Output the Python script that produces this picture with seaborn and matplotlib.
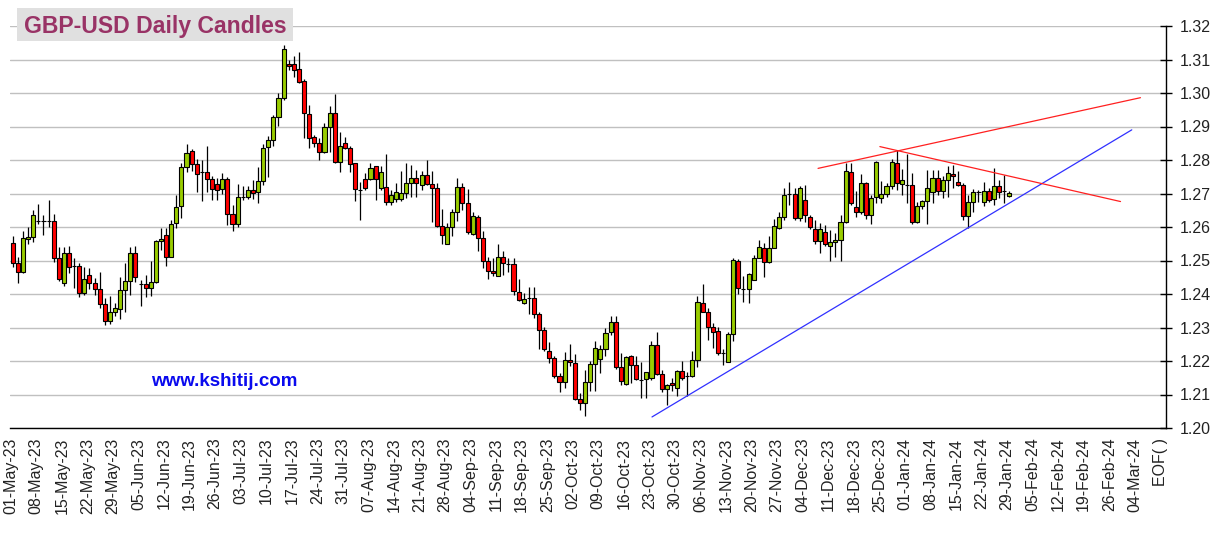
import numpy as np
import pandas as pd
import matplotlib
matplotlib.use("Agg")
import matplotlib.pyplot as plt
from matplotlib.patches import Rectangle
import seaborn as sns

# ---------------------
# Data
# ---------------------
opens = [
    1.2552, 1.2492, 1.2467, 1.2563, 1.2569, 1.2618, 1.2618, 1.2618, 1.2618, 1.2508,
    1.2433, 1.2523, 1.2485, 1.2485, 1.2403, 1.2458, 1.2432, 1.2415, 1.2369, 1.2318,
    1.2346, 1.2355, 1.2412, 1.2439, 1.2523, 1.2429, 1.2430, 1.2417, 1.2437, 1.2557,
    1.2577, 1.2511, 1.2611, 1.2663, 1.2778, 1.2826, 1.2789, 1.2765, 1.2765, 1.2743,
    1.2728, 1.2712, 1.2744, 1.2638, 1.2608, 1.2691, 1.2691, 1.2709, 1.2704, 1.2736,
    1.2838, 1.2859, 1.2928, 1.2986, 1.3088, 1.3088, 1.3071, 1.3037, 1.2936, 1.2868,
    1.2850, 1.2823, 1.2899, 1.2939, 1.2794, 1.2852, 1.2835, 1.2790, 1.2709, 1.2743,
    1.2743, 1.2781, 1.2716, 1.2719, 1.2675, 1.2684, 1.2684, 1.2701, 1.2731, 1.2746,
    1.2725, 1.2755, 1.2728, 1.2716, 1.2602, 1.2549, 1.2600, 1.2645, 1.2719, 1.2672,
    1.2579, 1.2629, 1.2566, 1.2500, 1.2470, 1.2455, 1.2510, 1.2489, 1.2489, 1.2406,
    1.2372, 1.2389, 1.2389, 1.2341, 1.2292, 1.2230, 1.2209, 1.2154, 1.2137, 1.2204,
    1.2194, 1.2087, 1.2074, 1.2137, 1.2191, 1.2205, 1.2236, 1.2287, 1.2315, 1.2183,
    1.2130, 1.2215, 1.2188, 1.2143, 1.2145, 1.2148, 1.2249, 1.2162, 1.2115, 1.2134,
    1.2118, 1.2170, 1.2155, 1.2156, 1.2203, 1.2372, 1.2347, 1.2302, 1.2290, 1.2224,
    1.2197, 1.2281, 1.2498, 1.2416, 1.2416, 1.2443, 1.2508, 1.2538, 1.2496, 1.2536,
    1.2598, 1.2631, 1.2698, 1.2698, 1.2627, 1.2680, 1.2630, 1.2594, 1.2557, 1.2585,
    1.2544, 1.2555, 1.2562, 1.2614, 1.2764, 1.2659, 1.2644, 1.2731, 1.2636, 1.2689,
    1.2686, 1.2698, 1.2723, 1.2792, 1.2729, 1.2726, 1.2726, 1.2614, 1.2663, 1.2679,
    1.2704, 1.2746, 1.2706, 1.2739, 1.2758, 1.2734, 1.2724, 1.2634, 1.2674, 1.2704,
    1.2676, 1.2706, 1.2683, 1.2723, 1.2708, 1.2693,
]
highs = [
    1.2572, 1.2510, 1.2587, 1.2600, 1.2650, 1.2668, 1.2637, 1.2681, 1.2639, 1.2539,
    1.2539, 1.2543, 1.2507, 1.2492, 1.2482, 1.2477, 1.2448, 1.2467, 1.2388, 1.2395,
    1.2373, 1.2452, 1.2492, 1.2539, 1.2543, 1.2443, 1.2457, 1.2499, 1.2560, 1.2598,
    1.2598, 1.2621, 1.2695, 1.2790, 1.2848, 1.2833, 1.2802, 1.2800, 1.2842, 1.2751,
    1.2745, 1.2760, 1.2748, 1.2665, 1.2728, 1.2721, 1.2721, 1.2740, 1.2780, 1.2849,
    1.2871, 1.2935, 1.3000, 1.3143, 1.3100, 1.3110, 1.3123, 1.3041, 1.2964, 1.2875,
    1.2865, 1.2909, 1.2962, 1.2997, 1.2884, 1.2870, 1.2842, 1.2792, 1.2733, 1.2761,
    1.2791, 1.2783, 1.2781, 1.2818, 1.2711, 1.2731, 1.2766, 1.2791, 1.2786, 1.2769,
    1.2766, 1.2800, 1.2766, 1.2731, 1.2654, 1.2612, 1.2654, 1.2746, 1.2731, 1.2713,
    1.2645, 1.2637, 1.2589, 1.2510, 1.2508, 1.2549, 1.2529, 1.2507, 1.2507, 1.2444,
    1.2403, 1.2422, 1.2422, 1.2346, 1.2301, 1.2258, 1.2214, 1.2164, 1.2226, 1.2251,
    1.2222, 1.2103, 1.2174, 1.2199, 1.2259, 1.2249, 1.2299, 1.2334, 1.2333, 1.2224,
    1.2216, 1.2219, 1.2216, 1.2198, 1.2168, 1.2259, 1.2288, 1.2174, 1.2131, 1.2148,
    1.2174, 1.2199, 1.2168, 1.2229, 1.2393, 1.2431, 1.2357, 1.2312, 1.2302, 1.2237,
    1.2286, 1.2507, 1.2505, 1.2454, 1.2464, 1.2517, 1.2562, 1.2551, 1.2572, 1.2625,
    1.2646, 1.2716, 1.2733, 1.2716, 1.2721, 1.2726, 1.2635, 1.2621, 1.2611, 1.2607,
    1.2592, 1.2582, 1.2636, 1.2792, 1.2790, 1.2706, 1.2759, 1.2734, 1.2696, 1.2798,
    1.2736, 1.2731, 1.2802, 1.2830, 1.2773, 1.2818, 1.2761, 1.2676, 1.2681, 1.2769,
    1.2771, 1.2771, 1.2751, 1.2782, 1.2785, 1.2766, 1.2731, 1.2696, 1.2713, 1.2711,
    1.2733, 1.2716, 1.2776, 1.2741, 1.2756, 1.2706,
]
lows = [
    1.2482, 1.2434, 1.2462, 1.2548, 1.2556, 1.2608, 1.2577, 1.2600, 1.2495, 1.2440,
    1.2423, 1.2462, 1.2419, 1.2391, 1.2398, 1.2415, 1.2398, 1.2359, 1.2308, 1.2311,
    1.2333, 1.2326, 1.2345, 1.2398, 1.2437, 1.2365, 1.2392, 1.2395, 1.2434, 1.2532,
    1.2484, 1.2509, 1.2596, 1.2626, 1.2765, 1.2766, 1.2703, 1.2678, 1.2703, 1.2680,
    1.2682, 1.2700, 1.2606, 1.2589, 1.2600, 1.2681, 1.2683, 1.2685, 1.2673, 1.2726,
    1.2750, 1.2843, 1.2902, 1.2979, 1.3068, 1.3049, 1.3029, 1.2865, 1.2837, 1.2838,
    1.2800, 1.2820, 1.2823, 1.2791, 1.2763, 1.2832, 1.2765, 1.2679, 1.2620, 1.2711,
    1.2739, 1.2682, 1.2709, 1.2667, 1.2667, 1.2674, 1.2677, 1.2687, 1.2690, 1.2689,
    1.2711, 1.2726, 1.2614, 1.2600, 1.2549, 1.2549, 1.2572, 1.2617, 1.2652, 1.2580,
    1.2576, 1.2529, 1.2478, 1.2444, 1.2454, 1.2454, 1.2457, 1.2466, 1.2398, 1.2378,
    1.2369, 1.2341, 1.2329, 1.2235, 1.2231, 1.2194, 1.2149, 1.2108, 1.2119, 1.2185,
    1.2084, 1.2054, 1.2037, 1.2109, 1.2109, 1.2164, 1.2214, 1.2277, 1.2177, 1.2128,
    1.2128, 1.2134, 1.2143, 1.2090, 1.2090, 1.2143, 1.2159, 1.2107, 1.2070, 1.2111,
    1.2095, 1.2143, 1.2095, 1.2152, 1.2183, 1.2347, 1.2264, 1.2239, 1.2217, 1.2189,
    1.2197, 1.2259, 1.2401, 1.2375, 1.2374, 1.2441, 1.2508, 1.2452, 1.2492, 1.2536,
    1.2595, 1.2622, 1.2666, 1.2622, 1.2617, 1.2615, 1.2594, 1.2550, 1.2522, 1.2542,
    1.2500, 1.2510, 1.2500, 1.2612, 1.2666, 1.2629, 1.2639, 1.2623, 1.2610, 1.2673,
    1.2673, 1.2691, 1.2713, 1.2711, 1.2696, 1.2673, 1.2610, 1.2612, 1.2654, 1.2610,
    1.2671, 1.2696, 1.2686, 1.2691, 1.2716, 1.2721, 1.2621, 1.2597, 1.2646, 1.2676,
    1.2663, 1.2676, 1.2666, 1.2686, 1.2673, 1.2691,
]
closes = [
    1.2492, 1.2467, 1.2567, 1.2569, 1.2637, 1.2618, 1.2618, 1.2618, 1.2508, 1.2445,
    1.2523, 1.2482, 1.2485, 1.2403, 1.2445, 1.2432, 1.2415, 1.2369, 1.2318, 1.2346,
    1.2358, 1.2412, 1.2439, 1.2523, 1.2450, 1.2429, 1.2417, 1.2437, 1.2557, 1.2564,
    1.2511, 1.2608, 1.2659, 1.2778, 1.2820, 1.2789, 1.2757, 1.2765, 1.2743, 1.2713,
    1.2711, 1.2744, 1.2638, 1.2608, 1.2691, 1.2691, 1.2709, 1.2701, 1.2736, 1.2836,
    1.2859, 1.2928, 1.2984, 1.3131, 1.3081, 1.3069, 1.3034, 1.2939, 1.2865, 1.2852,
    1.2823, 1.2899, 1.2941, 1.2794, 1.2842, 1.2837, 1.2787, 1.2713, 1.2709, 1.2716,
    1.2776, 1.2743, 1.2764, 1.2675, 1.2697, 1.2703, 1.2701, 1.2731, 1.2746, 1.2731,
    1.2755, 1.2728, 1.2716, 1.2602, 1.2577, 1.2600, 1.2645, 1.2719, 1.2672, 1.2585,
    1.2632, 1.2566, 1.2500, 1.2470, 1.2463, 1.2510, 1.2492, 1.2489, 1.2408, 1.2383,
    1.2384, 1.2389, 1.2341, 1.2292, 1.2237, 1.2209, 1.2154, 1.2137, 1.2202, 1.2198,
    1.2087, 1.2074, 1.2137, 1.2191, 1.2239, 1.2236, 1.2284, 1.2315, 1.2183, 1.2141,
    1.2212, 1.2188, 1.2145, 1.2143, 1.2166, 1.2249, 1.2162, 1.2115, 1.2127, 1.2127,
    1.2171, 1.2150, 1.2155, 1.2203, 1.2377, 1.2347, 1.2302, 1.2287, 1.2224, 1.2224,
    1.2281, 1.2500, 1.2418, 1.2416, 1.2459, 1.2508, 1.2541, 1.2496, 1.2536, 1.2604,
    1.2631, 1.2697, 1.2698, 1.2627, 1.2715, 1.2635, 1.2600, 1.2557, 1.2594, 1.2550,
    1.2554, 1.2562, 1.2614, 1.2766, 1.2673, 1.2644, 1.2731, 1.2636, 1.2686, 1.2795,
    1.2698, 1.2721, 1.2795, 1.2731, 1.2739, 1.2726, 1.2614, 1.2663, 1.2679, 1.2716,
    1.2746, 1.2706, 1.2739, 1.2761, 1.2753, 1.2724, 1.2634, 1.2674, 1.2704, 1.2704,
    1.2706, 1.2681, 1.2723, 1.2704, 1.2708, 1.2701,
]

# trend lines: (bar index, price) end points
blue_trend_idx = [125.1, 219.0]
blue_trend_px = [1.2033, 1.2890]
red_up_idx = [157.6, 220.7]
red_up_px = [1.2775, 1.2986]
red_down_idx = [169.7, 216.8]
red_down_px = [1.2840, 1.2676]

# weekly tick labels (Mondays) + end-of-file marker
week_labels = [d.strftime("%d-%b-%y") for d in pd.date_range("2023-05-01", "2024-03-04", freq="W-MON")]
week_labels.append("EOF( )")
price_ticks = [1.20, 1.21, 1.22, 1.23, 1.24, 1.25, 1.26, 1.27, 1.28, 1.29, 1.30, 1.31, 1.32]

GREEN = "#99cc00"
RED = "#ff0000"

# ---------------------
# Plot
# ---------------------
sns.set_theme(style="white")
plt.rcParams["font.family"] = ["Liberation Sans", "DejaVu Sans"]

W, H = 1216, 533
fig = plt.figure(figsize=(W / 100, H / 100), dpi=100)
ax = fig.add_axes([10 / W, 1 - 428 / H, (1166 - 10) / W, 402 / H])

o = np.array(opens)
h = np.array(highs)
l = np.array(lows)
c = np.array(closes)
x = np.arange(len(o))
cols = [GREEN if cc > oo else RED for oo, cc in zip(o, c)]

ax.vlines(x, l, h, colors="black", linewidth=0.9, zorder=2)
ax.bar(x, c - o, bottom=o, width=0.8, color=cols, edgecolor="black", linewidth=0.8, zorder=3)

sns.lineplot(x=blue_trend_idx, y=blue_trend_px, color="#3030ff", linewidth=0.9, ax=ax, zorder=4)
sns.lineplot(x=red_up_idx, y=red_up_px, color="#ff2020", linewidth=0.9, ax=ax, zorder=4)
sns.lineplot(x=red_down_idx, y=red_down_px, color="#ff2020", linewidth=0.9, ax=ax, zorder=4)

ax.set_xlim(-0.55, 225.7)
ax.set_ylim(1.20, 1.32)

tick_pos = [5 * k - 0.4 for k in range(len(week_labels))]
ax.set_xticks(tick_pos)
ax.set_xticklabels(week_labels, rotation=90, fontsize=11.5, color="#222222")
ax.set_yticks(price_ticks)
ax.set_yticklabels([f"{p:.2f}" for p in price_ticks], fontsize=11.5, color="#222222")
ax.yaxis.tick_right()
ax.tick_params(axis="both", direction="inout", length=8, width=1, color="black", pad=3)
ax.tick_params(axis="y", pad=6)

ax.grid(axis="y", color="#c0c0c0", linewidth=1)
ax.grid(axis="x", visible=False)
ax.set_axisbelow(True)
for side in ["left", "top"]:
    ax.spines[side].set_visible(False)
for side in ["right", "bottom"]:
    ax.spines[side].set_color("black")
    ax.spines[side].set_linewidth(1)
ax.set_xlabel("")
ax.set_ylabel("")

# title box
fig.add_artist(Rectangle((17 / W, 1 - 41 / H), 276 / W, 33.5 / H, transform=fig.transFigure,
                         facecolor="#e0e0e0", edgecolor="none", zorder=5))
fig.text(24 / W, 1 - 33.3 / H, "GBP-USD Daily Candles", fontsize=16.6, fontweight="bold",
         color="#993366", va="baseline", ha="left", zorder=6)
fig.text(224 / W, 1 - 381 / H, "www.kshitij.com", fontsize=13.5, fontweight="bold",
         color="#0a0aee", va="center", ha="center")

fig.savefig("out.png", dpi=100)
